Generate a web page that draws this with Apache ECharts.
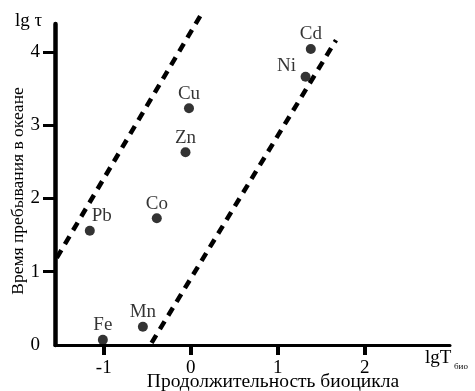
<!DOCTYPE html>
<html>
<head>
<meta charset="utf-8">
<script src="https://cdn.jsdelivr.net/npm/echarts@6/dist/echarts.min.js"></script>
<style>html,body{margin:0;padding:0;background:#fff}#c{width:475px;height:391px}</style>
</head>
<body>
<div id="c"></div>
<script>
// Data
var elements = ['Fe', 'Mn', 'Pb', 'Co', 'Zn', 'Cu', 'Ni', 'Cd'];
var lgTbio   = [-1.01, -0.55, -1.16, -0.39, -0.06, -0.02, 1.32, 1.38];
var lgTau    = [0.07, 0.25, 1.56, 1.73, 2.63, 3.23, 3.66, 4.04];
var leftBoundX  = [-1.54, 0.115];
var leftBoundY  = [1.19, 4.50];
var rightBoundX = [-0.45, 1.67];
var rightBoundY = [0.03, 4.16];
var xTicks = [-1, 0, 1, 2];
var yTickMarks = [1, 2, 3, 4];
var yTickLabels = [0, 1, 2, 3, 4];

var FONT = '"Liberation Serif", "DejaVu Serif", serif';
var labelOffsets = { Pb: [12, 0], Ni: [-19, 4] };

var chart = echarts.init(document.getElementById('c'));
var scatterData = elements.map(function (n, i) {
  var item = { name: n, value: [lgTbio[i], lgTau[i]] };
  if (labelOffsets[n]) item.label = { offset: labelOffsets[n] };
  return item;
});
function pairs(xs, ys) { return xs.map(function (x, i) { return [x, ys[i]]; }); }

chart.setOption({
  animation: false,
  backgroundColor: '#fff',
  grid: { left: 55, right: 25, top: 24, bottom: 46, containLabel: false },
  xAxis: {
    type: 'value', min: -1.56, max: 2.98,
    axisLine: { show: true, onZero: false, lineStyle: { color: '#000', width: 3 } },
    axisTick: { show: true, customValues: xTicks, length: 10, lineStyle: { color: '#000', width: 4 } },
    axisLabel: { customValues: xTicks, margin: 14, color: '#000', fontSize: 19, fontFamily: FONT },
    splitLine: { show: false }
  },
  yAxis: {
    type: 'value', min: 0, max: 4.38,
    axisLine: { show: true, onZero: false, lineStyle: { color: '#000', width: 4.5 } },
    axisTick: { show: true, customValues: yTickMarks, length: 12, lineStyle: { color: '#000', width: 3 } },
    axisLabel: { customValues: yTickLabels, margin: 15, color: '#000', fontSize: 19, fontFamily: FONT },
    splitLine: { show: false }
  },
  graphic: [
    { type: 'text', left: 15, top: 12, style: { text: 'lg τ', fontSize: 19, fontFamily: FONT, fill: '#000' } },
    { type: 'text', left: 425, top: 349, style: { text: 'lgT', fontSize: 19, fontFamily: FONT, fill: '#000' } },
    { type: 'text', left: 454, top: 362, style: { text: 'био', fontSize: 9, fontFamily: FONT, fill: '#000' } },
    { type: 'text', x: 273, y: 382, style: { text: 'Продолжительность биоцикла', fontSize: 19.5, fontFamily: FONT, fill: '#000', align: 'center', verticalAlign: 'middle' } },
    { type: 'text', x: 18, y: 191, rotation: Math.PI / 2, style: { text: 'Время пребывания в океане', fontSize: 17.5, fontFamily: FONT, fill: '#000', align: 'center', verticalAlign: 'middle' } }
  ],
  series: [
    {
      type: 'line', data: pairs(leftBoundX, leftBoundY), symbol: 'none', clip: false, silent: true,
      lineStyle: { color: '#000', width: 4.5, type: [9, 7] }
    },
    {
      type: 'line', data: pairs(rightBoundX, rightBoundY), symbol: 'none', clip: false, silent: true,
      lineStyle: { color: '#000', width: 4.5, type: [9, 7] }
    },
    {
      type: 'scatter', data: scatterData, symbolSize: 10, itemStyle: { color: '#000' },
      label: { show: true, position: 'top', distance: 0, formatter: '{b}', color: '#000', fontSize: 19, fontFamily: FONT }
    }
  ]
});
</script>
</body>
</html>
